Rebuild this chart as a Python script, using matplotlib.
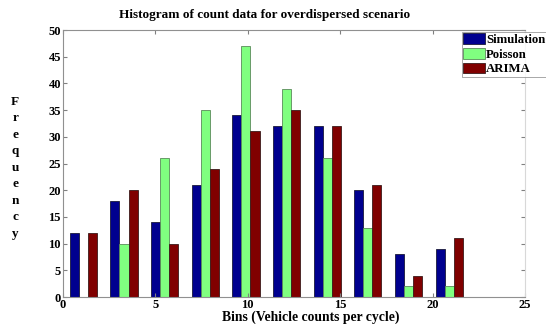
import numpy as np
import matplotlib
matplotlib.use('Agg')
import matplotlib.pyplot as plt

plt.rcParams['font.family'] = ['Liberation Serif', 'DejaVu Serif']
plt.rcParams['font.weight'] = 'bold'

# bin centres (bins 2.2 wide) and counts per model
bin_centers = [1.1, 3.3, 5.5, 7.7, 9.9, 12.1, 14.3, 16.5, 18.7, 20.9]
simulation = [12, 18, 14, 21, 34, 32, 32, 20, 8, 9]
poisson = [0, 10, 26, 35, 47, 39, 26, 13, 2, 2]
arima = [12, 20, 10, 24, 31, 35, 32, 21, 4, 11]
series_names = ['Simulation', 'Poisson', 'ARIMA']

fig = plt.figure(figsize=(5.46, 3.24), dpi=100)
ax = fig.add_axes([0.1154, 0.0833, 0.8461, 0.8241])

x = np.array(bin_centers)
w = 0.49
ax.bar(x - w, simulation, w, color='#00008f', edgecolor='#1a1a3a', linewidth=0.6, label=series_names[0])
ax.bar(x, poisson, w, color='#80ff80', edgecolor='#5a8a5a', linewidth=0.6, label=series_names[1])
ax.bar(x + w, arima, w, color='#800000', edgecolor='#3a1a1a', linewidth=0.6, label=series_names[2])

ax.set_xlim(0, 25)
ax.set_ylim(0, 50)
ax.set_xticks(range(0, 26, 5))
ax.set_yticks(range(0, 51, 5))
ax.tick_params(direction='in', length=3, labelsize=9, color='#808080', pad=1.5)
for lbl in ax.get_xticklabels() + ax.get_yticklabels():
    lbl.set_fontweight('bold')
for s in ax.spines.values():
    s.set_color('#909090')
    s.set_linewidth(0.8)
ax.spines['right'].set_color('#d8d8d8')
ax.yaxis.set_ticks_position('both')
ax.xaxis.set_ticks_position('both')

fig.text(0.485, 0.955, 'Histogram of count data for overdispersed scenario', fontsize=9.5,
         fontweight='bold', ha='center', va='center')
fig.text(0.57, 0.022, 'Bins (Vehicle counts per cycle)', fontsize=9.8,
         fontweight='bold', ha='center', va='center')
fig.text(0.028, 0.482, '\n'.join('Frequency'), fontsize=9.5, fontweight='bold',
         ha='center', va='center', linespacing=1.5)

leg = fig.legend(loc='upper left', bbox_to_anchor=(0.846, 0.901), bbox_transform=fig.transFigure,
                 fontsize=9.2, frameon=True, fancybox=False, handlelength=1.7, handleheight=0.9,
                 handletextpad=0.1, borderpad=0.1, labelspacing=0.15, borderaxespad=0)
leg.get_frame().set_edgecolor('#808080')
leg.get_frame().set_linewidth(0.6)
for t in leg.get_texts():
    t.set_fontweight('bold')

fig.savefig('out.png', dpi=100)
